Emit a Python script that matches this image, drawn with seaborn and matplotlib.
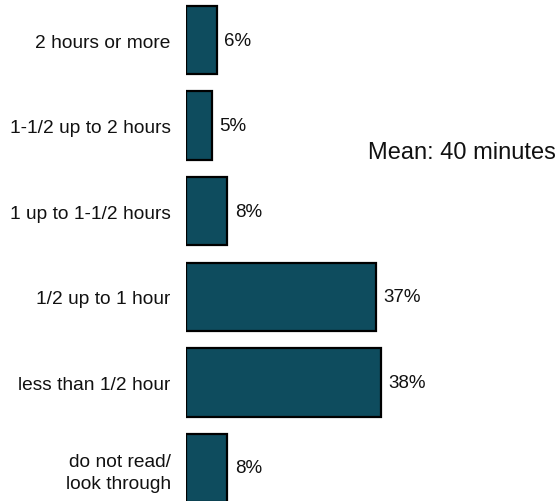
import matplotlib
matplotlib.use("Agg")
import matplotlib.pyplot as plt
import seaborn as sns
import pandas as pd

# Daily reading time, share of respondents
categories = [
    "2 hours or more",
    "1-1/2 up to 2 hours",
    "1 up to 1-1/2 hours",
    "1/2 up to 1 hour",
    "less than 1/2 hour",
    "do not read/\nlook through",
]
shares = [6, 5, 8, 37, 38, 8]
mean_note = "Mean: 40 minutes"

df = pd.DataFrame({"category": categories, "share": shares})

sns.set_theme(style="white")
plt.rcParams["font.family"] = ["Liberation Sans", "DejaVu Sans"]

W, H = 559, 502
pitch = 85.6          # pixels between bar centres
first_centre = 41.0   # pixel row of the first bar centre
ax_px_h = 520         # axes extends below the canvas so the last bar is cut off

fig = plt.figure(figsize=(W / 100, H / 100), dpi=100)
ax = fig.add_axes([186 / W, 1 - ax_px_h / H, 1 - 186 / W, ax_px_h / H])

sns.barplot(
    data=df, x="share", y="category", orient="h", ax=ax,
    color="#0e4c5e", saturation=1, width=0.80,
    edgecolor="black", linewidth=1.6,
)

ax.set_xlim(0, 373 / 5.13)
ax.set_ylim((ax_px_h - first_centre) / pitch, -first_centre / pitch)

for c in ax.containers:
    ax.bar_label(c, fmt="{:.0f}%", padding=5.5, fontsize=13.5, color="#111111")

ax.set_xlabel("")
ax.set_ylabel("")
ax.set_xticks([])
ax.tick_params(axis="y", length=0, pad=11, labelsize=13.8, labelcolor="#111111")
for lab in ax.get_yticklabels():
    lab.set_multialignment("right")
    lab.set_linespacing(1.35)
for s in ax.spines.values():
    s.set_visible(False)

fig.text(368 / W, 1 - 153 / H, mean_note, ha="left", va="center",
         fontsize=17, color="#111111")

fig.savefig("out.png", dpi=100)
